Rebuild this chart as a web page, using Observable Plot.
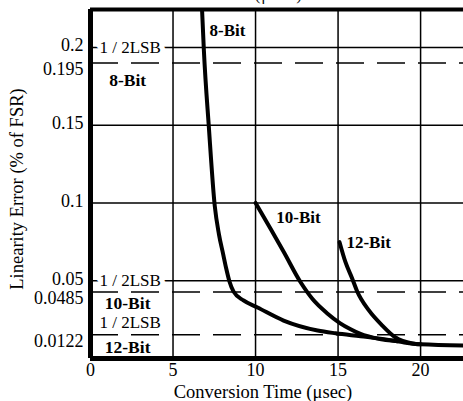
<!DOCTYPE html>
<html>
<head>
<meta charset="utf-8">
<script src="https://cdn.jsdelivr.net/npm/d3@7"></script>
<script src="https://cdn.jsdelivr.net/npm/@observablehq/plot@0.6"></script>
<style>
  html, body { margin: 0; padding: 0; background: white; }
  #chart { position: relative; width: 463px; height: 401px; overflow: hidden; }
  #title { position: absolute; left: 57px; top: -15px; font: 17px "Liberation Serif", serif; letter-spacing: 1px; color: #111; white-space: nowrap; }
  #chart svg { position: absolute; left: 0; top: 0; }
</style>
</head>
<body>
<div id="chart"><div id="title">vs CONVERSION TIME (μsec)</div></div>
<script>
// ---- data ----
const bit8X  = [6.76, 6.87, 7.17, 7.53, 7.78, 8.04, 8.22, 8.42, 8.67, 9.27, 10.12, 11.70, 13.76, 14.85, 16.36, 17.88, 18.79, 20.0, 22.6];
const bit8Y  = [0.224, 0.198, 0.149, 0.098, 0.080, 0.067, 0.058, 0.0495, 0.043, 0.0373, 0.0328, 0.0244, 0.018, 0.0162, 0.0143, 0.0123, 0.0107, 0.0091, 0.0084];
const bit10X = [10.0, 10.91, 11.72, 12.73, 13.44, 14.35, 15.11, 15.76, 16.36, 17.39, 18.6];
const bit10Y = [0.100, 0.0834, 0.0683, 0.049, 0.0384, 0.029, 0.0228, 0.0188, 0.0158, 0.0128, 0.0111];
const bit12X = [15.09, 15.45, 15.86, 16.16, 16.87, 17.68, 18.48, 19.5, 20.0];
const bit12Y = [0.0748, 0.0619, 0.0513, 0.0431, 0.0309, 0.0212, 0.0135, 0.0097, 0.0091];

const xTicks = [0, 5, 10, 15, 20];
const yGrid = [0.05, 0.1, 0.15, 0.2];
const yGridLabels = ["0.05", "0.1", "0.15", "0.2"];
// half-LSB reference levels (as drawn) and their printed labels
const lsbLevels = [0.19, 0.0428, 0.0152];
const lsbLabels = ["0.195", "0.0485", "0.0122"];
const lsbBits = ["8-Bit", "10-Bit", "12-Bit"];
const lsbTextY = [0.2, 0.05, 0.0232];
const lsbBitY = [0.179, 0.0354, 0.0071];

const curveNames = ["8-Bit", "10-Bit", "12-Bit"];
const curveLabelX = [8.3, 12.6, 16.85];
const curveLabelY = [0.211, 0.0907, 0.0745];

const xTitle = "Conversion Time (μsec)";
const yTitle = "Linearity Error (% of FSR)";

const xMax = 22.6, yMax = 0.2244;

// ---- build tables ----
const series = [
  ...bit8X.map((x, i) => ({x, y: bit8Y[i], s: "8-Bit"})),
  ...bit10X.map((x, i) => ({x, y: bit10Y[i], s: "10-Bit"})),
  ...bit12X.map((x, i) => ({x, y: bit12Y[i], s: "12-Bit"}))
];
const lsbTop = lsbTextY.map((y) => ({x: 2.4, y, t: "1 / 2LSB"}));
const lsbBottom = lsbBitY.map((y, i) => ({x: 2.25, y, t: lsbBits[i]}));
const curveLabels = curveNames.map((t, i) => ({x: curveLabelX[i], y: curveLabelY[i], t}));

const font = "Liberation Serif, serif";

const chart = Plot.plot({
  width: 463,
  height: 401,
  marginLeft: 90,
  marginRight: 0,
  marginTop: 9,
  marginBottom: 43,
  x: {domain: [0, xMax]},
  y: {domain: [0, yMax]},
  style: {fontFamily: font, fontSize: "18px", background: "transparent", color: "black"},
  marks: [
    Plot.ruleX(xTicks.slice(1), {stroke: "black", strokeWidth: 1.5}),
    Plot.ruleY(yGrid, {stroke: "black", strokeWidth: 1.5}),
    Plot.ruleY(lsbLevels, {stroke: "black", strokeWidth: 1.5, strokeDasharray: "28,13"}),
    Plot.text(lsbTop, {x: "x", y: "y", text: "t", fill: "black", stroke: "white", strokeWidth: 10, fontSize: 17}),
    Plot.text(lsbBottom, {x: "x", y: "y", text: "t", fill: "black", fontSize: 17.5, fontWeight: "bold"}),
    Plot.line(series, {x: "x", y: "y", z: "s", stroke: "black", strokeWidth: 4, curve: "monotone-x"}),
    Plot.text(curveLabels, {x: "x", y: "y", text: "t", fill: "black", fontSize: 17, fontWeight: "bold"}),
    Plot.ruleX([0], {stroke: "black", strokeWidth: 5}),
    Plot.ruleY([0], {stroke: "black", strokeWidth: 5}),
    Plot.ruleY([yMax], {stroke: "black", strokeWidth: 4}),
    Plot.axisX({ticks: xTicks, tickSize: 0, tickPadding: 5, fontSize: 18, label: null}),
    Plot.axisY({ticks: yGrid, tickFormat: (d, i) => yGridLabels[i], tickSize: 0, tickPadding: 7, fontSize: 18, dy: -2, label: null}),
    Plot.axisY({ticks: lsbLevels, tickFormat: (d, i) => lsbLabels[i], tickSize: 0, tickPadding: 7, fontSize: 18, dy: 6, label: null}),
    Plot.text([xTitle], {frameAnchor: "bottom", textAnchor: "middle", lineAnchor: "middle", dx: -14, dy: 34, fontSize: 18.5, fill: "black"}),
    Plot.text([yTitle], {frameAnchor: "left", textAnchor: "middle", lineAnchor: "middle", rotate: -90, dx: -73, dy: 5, fontSize: 18.5, fill: "black"})
  ]
});
document.getElementById("chart").appendChild(chart);
</script>
</body>
</html>
